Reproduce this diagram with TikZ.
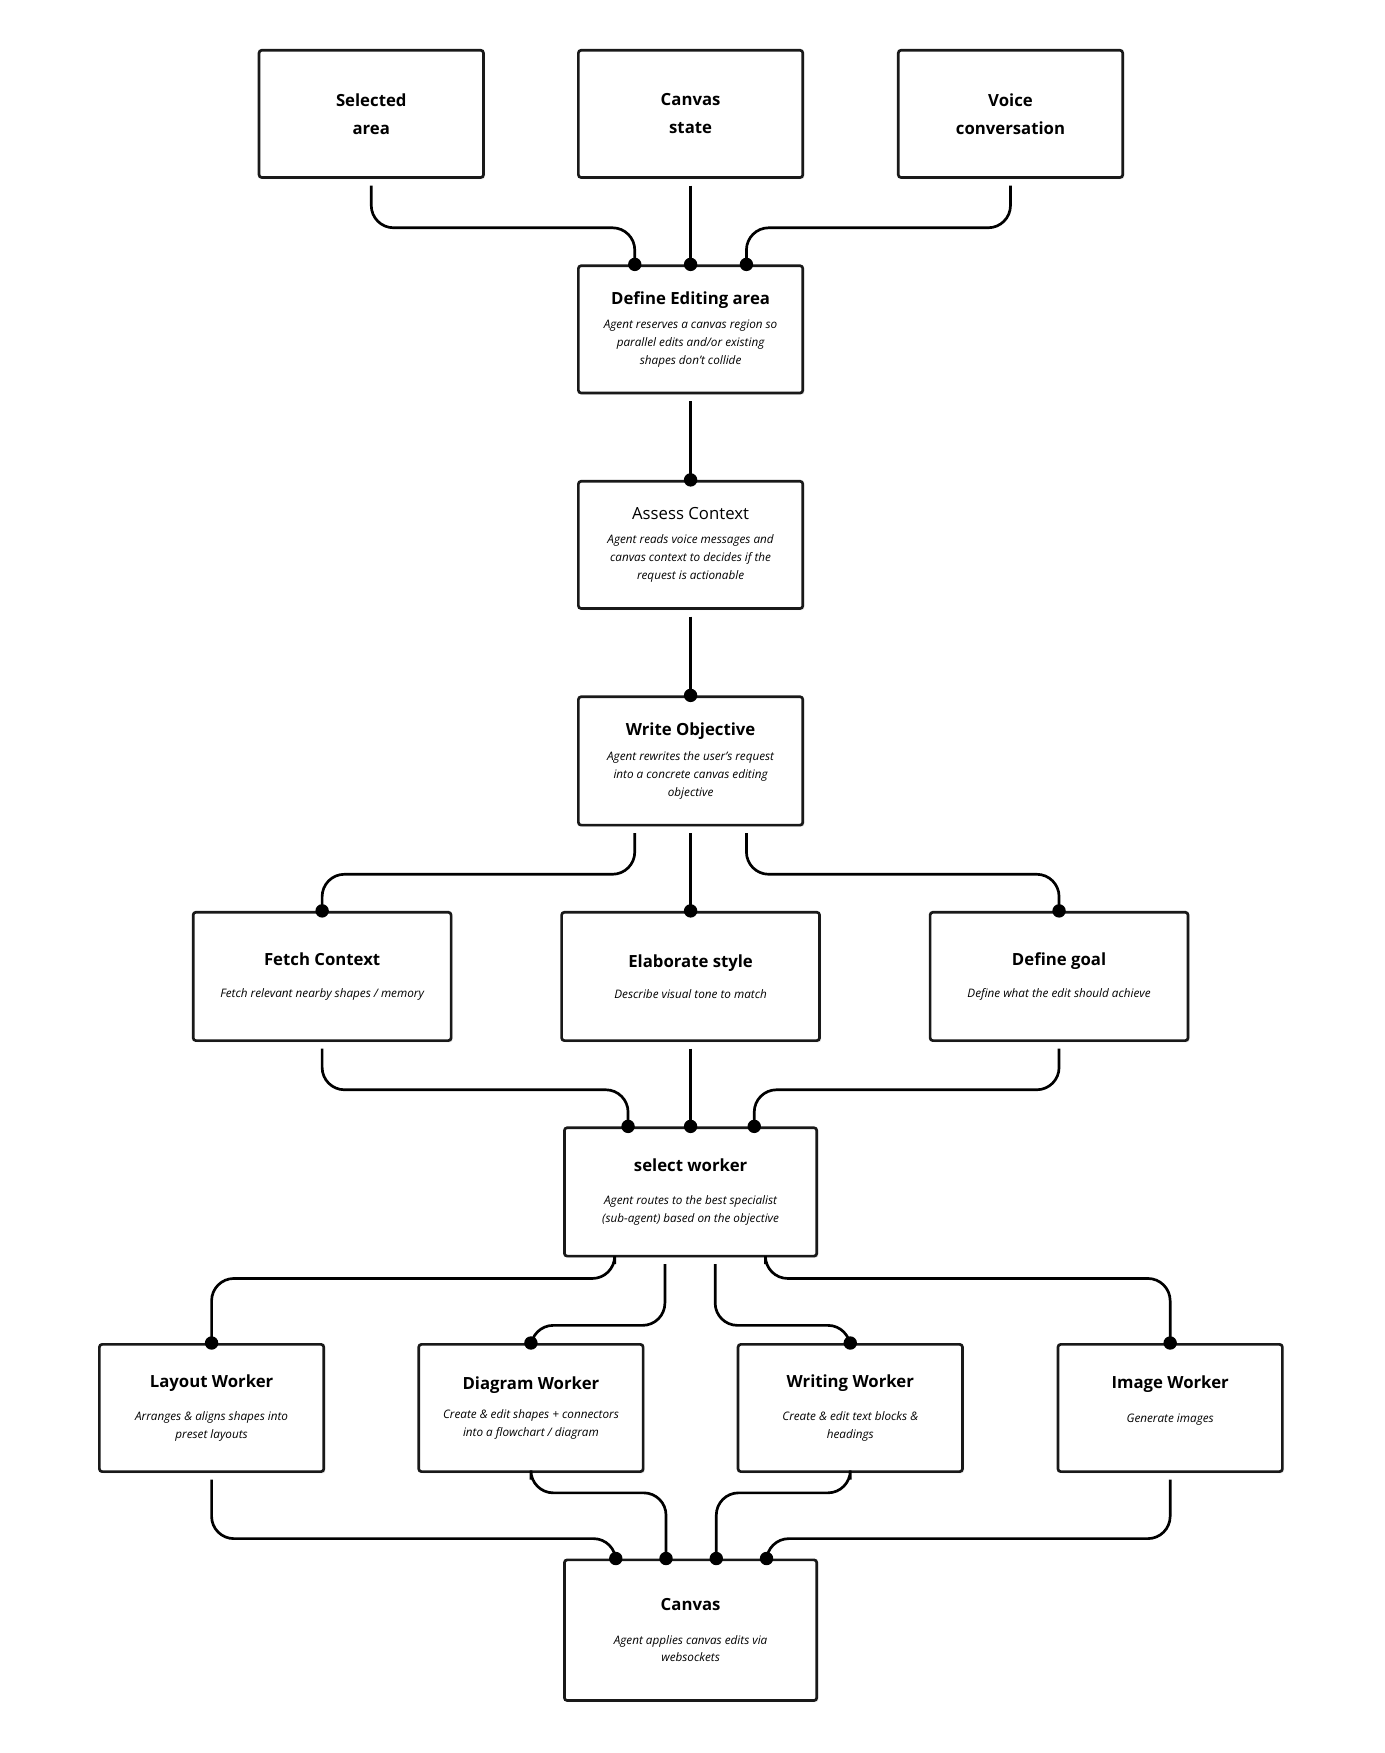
\documentclass[tikz,border=0pt]{standalone}
\usepackage{fontspec}
\setmainfont{Open Sans}
\usetikzlibrary{shadows}
\begin{document}
\begin{tikzpicture}[x=1pt,y=-1pt,
  box/.style={draw=black!90,line width=2.4pt,rounded corners=2.5pt,fill=white,align=center,inner sep=4pt,
    font=\fontsize{10.5}{16}\selectfont,
    drop shadow={opacity=0.18,shadow xshift=1.5pt,shadow yshift=-1.5pt}},
  t/.style={font=\fontsize{15}{25}\selectfont\bfseries},
  conn/.style={line width=2.4pt,rounded corners=20pt},
  dot/.style={circle,fill=black,inner sep=0pt,minimum size=12pt}]
\useasboundingbox (0,0) rectangle (1240,1570);
\newcommand{\ttl}[1]{{\fontsize{15}{18}\selectfont\bfseries #1}}
\newcommand{\dsc}[1]{{\itshape #1}}
% nodes
\node[box,minimum width=201,minimum height=114,t] (sel) at (332.5,102) {Selected\\area};
\node[box,minimum width=201,minimum height=114,t] (cst) at (618.5,102) {Canvas\\state};
\node[box,minimum width=201,minimum height=114,t] (voi) at (905,102) {Voice\\conversation};
\node[box,minimum width=201,minimum height=114] (def) at (618.5,295) {\ttl{Define Editing area}\\[6pt]\dsc{Agent reserves a canvas region so}\\\dsc{parallel edits and/or existing}\\\dsc{shapes don't collide}};
\node[box,minimum width=201,minimum height=114] (ass) at (618.5,488) {{\fontsize{15}{18}\selectfont Assess Context}\\[6pt]\dsc{Agent reads voice messages and}\\\dsc{canvas context to decides if the}\\\dsc{request is actionable}};
\node[box,minimum width=201,minimum height=115] (obj) at (618.5,681.5) {\ttl{Write Objective}\\[6pt]\dsc{Agent rewrites the user's request}\\\dsc{into a concrete canvas editing}\\\dsc{objective}};
\node[box,minimum width=231,minimum height=115] (fet) at (288.5,874.5) {\ttl{Fetch Context}\\[12pt]\dsc{Fetch relevant nearby shapes / memory}};
\node[box,minimum width=231,minimum height=115] (ela) at (618.5,874.5) {\ttl{Elaborate style}\\[12pt]\dsc{Describe visual tone to match}};
\node[box,minimum width=231,minimum height=115] (goa) at (948.5,874.5) {\ttl{Define goal}\\[12pt]\dsc{Define what the edit should achieve}};
\node[box,minimum width=226,minimum height=115] (wor) at (618.5,1067.5) {\ttl{select worker}\\[14pt]\dsc{Agent routes to the best specialist}\\\dsc{(sub-agent) based on the objective}};
\node[box,minimum width=201,minimum height=114] (lay) at (189.5,1261) {\ttl{Layout Worker}\\[14pt]\dsc{Arranges \& aligns shapes into}\\\dsc{preset layouts}};
\node[box,minimum width=201,minimum height=114] (dia) at (475.5,1261) {\ttl{Diagram Worker}\\[10pt]\dsc{Create \& edit shapes + connectors}\\\dsc{into a flowchart / diagram}};
\node[box,minimum width=201,minimum height=114] (wri) at (761.5,1261) {\ttl{Writing Worker}\\[14pt]\dsc{Create \& edit text blocks \&}\\\dsc{headings}};
\node[box,minimum width=201,minimum height=114] (img) at (1048,1261) {\ttl{Image Worker}\\[14pt]\dsc{Generate images}\\\phantom{x}};
\node[box,minimum width=226,minimum height=126] (can) at (618.5,1460) {\ttl{Canvas}\\[14pt]\dsc{Agent applies canvas edits via}\\\dsc{websockets}};
\newcommand{\cn}[6]{%
  \coordinate (s-#6) at ([xshift=#2, yshift=-6]#1.south);
  \coordinate (e-#6) at ([xshift=#5]#4.north);
  \draw[conn] (s-#6) -- (s-#6 |- 0,#3) -- (e-#6 |- 0,#3) -- (e-#6);
  \node[dot] at (e-#6) {};}
\newcommand{\st}[3]{%
  \coordinate (s-#3) at ([yshift=-6]#1.south);
  \draw[line width=2.4pt] (s-#3) -- (#2.north);
  \node[dot] at (#2.north) {};}
\cn{sel}{0}{204}{def}{-50}{a}
\st{cst}{def}{b}
\cn{voi}{0}{204}{def}{50}{c}
\st{def}{ass}{d}
\st{ass}{obj}{e}
\cn{obj}{-50}{783}{fet}{0}{f}
\st{obj}{ela}{g}
\cn{obj}{50}{783}{goa}{0}{h}
\cn{fet}{0}{976}{wor}{-56}{i}
\st{ela}{wor}{j}
\cn{goa}{0}{976}{wor}{57}{k}
\cn{wor}{-68}{1145}{lay}{0}{l}
\cn{wor}{-23}{1187}{dia}{0}{m}
\cn{wor}{22}{1187}{wri}{0}{n}
\cn{wor}{67}{1145}{img}{0}{o}
\cn{lay}{0}{1378}{can}{-67}{p}
\cn{dia}{0}{1337}{can}{-22}{q}
\cn{wri}{0}{1337}{can}{23}{r}
\cn{img}{0}{1378}{can}{68}{s}
\end{tikzpicture}
\end{document}
